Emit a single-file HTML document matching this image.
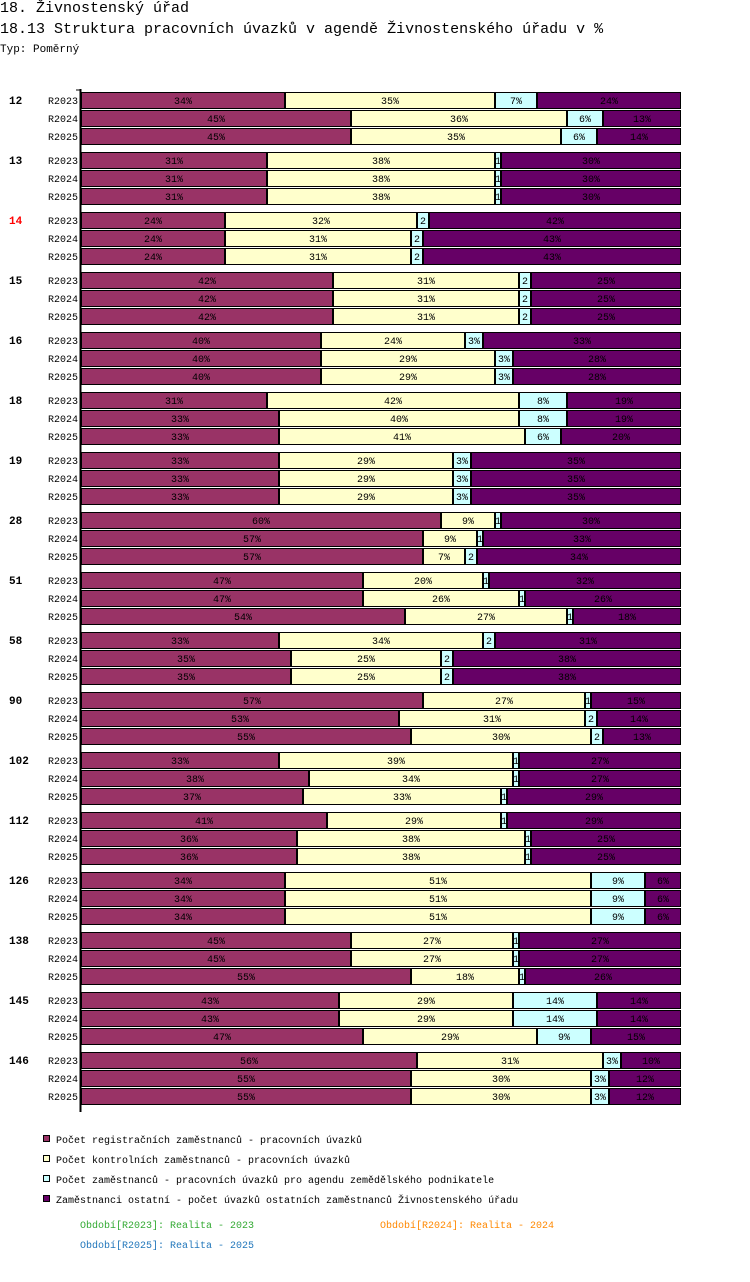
<!DOCTYPE html>
<html><head><meta charset="utf-8"><style>
body{margin:0;width:750px;height:1282px;background:#fff;font-family:"Liberation Mono","DejaVu Sans Mono",monospace;position:relative;overflow:hidden}
.t{position:absolute;white-space:nowrap;color:#000}
</style></head><body>
<div class="t" style="left:0;top:0;font-size:15px">18. Živnostenský úřad</div>
<div class="t" style="left:0;top:21px;font-size:15px">18.13 Struktura pracovních úvazků v agendě Živnostenského úřadu v %</div>
<div class="t" style="left:0;top:44px;font-size:11px">Typ: Poměrný</div>
<svg id="chart" width="750" height="1282" style="position:absolute;left:0;top:0" font-family="Liberation Mono, DejaVu Sans Mono, monospace"></svg>
<script>
const groups=["12","13","14","15","16","18","19","28","51","58","90","102","112","126","138","145","146"];
const periods=["R2023","R2024","R2025"];
const registr=[[34,45,45],[31,31,31],[24,24,24],[42,42,42],[40,40,40],[31,33,33],[33,33,33],[60,57,57],[47,47,54],[33,35,35],[57,53,55],[33,38,37],[41,36,36],[34,34,34],[45,45,55],[43,43,47],[56,55,55]];
const kontrol=[[35,36,35],[38,38,38],[32,31,31],[31,31,31],[24,29,29],[42,40,41],[29,29,29],[9,9,7],[20,26,27],[34,25,25],[27,31,30],[39,34,33],[29,38,38],[51,51,51],[27,27,18],[29,29,29],[31,30,30]];
const zemed=[[7,6,6],[1,1,1],[2,2,2],[2,2,2],[3,3,3],[8,8,6],[3,3,3],[1,1,2],[1,1,1],[2,2,2],[1,2,2],[1,1,1],[1,1,1],[9,9,9],[1,1,1],[14,14,9],[3,3,3]];
const ostatni=[[24,13,14],[30,30,30],[42,43,43],[25,25,25],[33,28,28],[19,19,20],[35,35,35],[30,33,34],[32,26,18],[31,38,38],[15,14,13],[27,27,29],[29,25,25],[6,6,6],[27,27,26],[14,14,15],[10,12,12]];
const series=[registr,kontrol,zemed,ostatni];
const colors=["#993366","#ffffcc","#ccffff","#660066"];
const NS="http://www.w3.org/2000/svg";
const svg=document.getElementById("chart");
const X0=81,W=600,Y0=92,GSTEP=60,RSTEP=18,BH=16;
function xs(p){return X0+p/100*W;}
function mk(t,a){const e=document.createElementNS(NS,t);for(const k in a)e.setAttribute(k,a[k]);svg.appendChild(e);return e;}
groups.forEach((g,gi)=>{
  const gl=mk("text",{x:9,y:Y0+gi*GSTEP+12,"font-size":11,"font-weight":"bold",fill:g==="14"?"#ff0000":"#000"});
  gl.textContent=g;
  
  
  periods.forEach((p,pi)=>{
    const y=Y0+gi*GSTEP+pi*RSTEP;
    const pl=mk("text",{x:78,y:y+12,"font-size":10,"text-anchor":"end",fill:"#000"});
    pl.textContent=p;
    
    
    const vals=series.map(s=>s[gi][pi]);
    const tot=vals.reduce((a,b)=>a+b,0);
    let acc=0;
    vals.forEach((v,si)=>{
      const x1=xs(acc/tot*100),x2=xs((acc+v)/tot*100);acc+=v;
      const r=mk("rect",{x:x1+0.5,y:y+0.5,width:Math.max(0,x2-x1-1),height:BH,fill:colors[si],stroke:"#000","stroke-width":1});
      
      
      const w=x2-x1;
      const txt=w>=16?v+"%":(w>=4?String(v):"");
      if(txt){
        const t=mk("text",{x:(x1+x2)/2,y:y+12,"font-size":10,"text-anchor":"middle",fill:"#000"});
        t.textContent=txt;
        
        
      }
    });
  });
});
const ax=mk("line",{x1:80.5,y1:89,x2:80.5,y2:1112,stroke:"#000","stroke-width":2});


const tk=mk("line",{x1:76,y1:90,x2:81,y2:90,stroke:"#000","stroke-width":1});


const legendLabels=["Počet registračních zaměstnanců - pracovních úvazků","Počet kontrolních zaměstnanců - pracovních úvazků","Počet zaměstnanců - pracovních úvazků pro agendu zemědělského podnikatele","Zaměstnanci ostatní - počet úvazků ostatních zaměstnanců Živnostenského úřadu"];
legendLabels.forEach((l,i)=>{
  const y=1134+i*20;
  const r=mk("rect",{x:43.5,y:y+1.5,width:6,height:6,fill:colors[i],stroke:"#000"});
  
  
  const t=mk("text",{x:56,y:y+9,"font-size":10,fill:"#000"});
  t.textContent=l;
  
  
});
const pers=[["Období[R2023]: Realita - 2023",80,1228,"#33aa33"],["Období[R2024]: Realita - 2024",380,1228,"#ff8800"],["Období[R2025]: Realita - 2025",80,1248,"#2277bb"]];
pers.forEach(p=>{
  const t=mk("text",{x:p[1],y:p[2],"font-size":10,fill:p[3]});
  t.textContent=p[0];
  
  
});
</script>
</body></html>
